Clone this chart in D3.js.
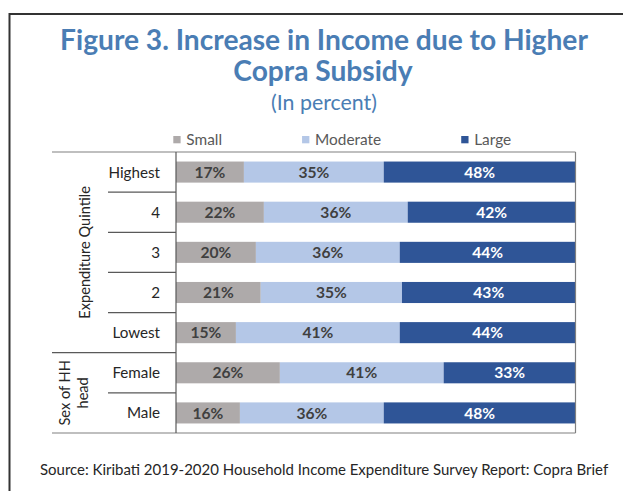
<!DOCTYPE html>
<html>
<head>
<meta charset="utf-8">
<script src="https://cdn.jsdelivr.net/npm/d3@7/dist/d3.min.js"></script>
<style>
  html, body { margin: 0; padding: 0; background: #fff; }
  svg { display: block; }
</style>
</head>
<body>
<svg id="chart" width="623" height="491"></svg>
<script>
// ---------------- DATA ----------------
const categories = ["Highest", "4", "3", "2", "Lowest", "Female", "Male"];
const seriesNames = ["Small", "Moderate", "Large"];
const small    = [17, 22, 20, 21, 15, 26, 16];
const moderate = [35, 36, 36, 35, 41, 41, 36];
const large    = [48, 42, 44, 43, 44, 33, 48];
const groupNames = [["Expenditure Quintile"], ["Sex of HH", "head"]];
const groupSizes = [5, 2];
const titleLines = ["Figure 3. Increase in Income due to Higher", "Copra Subsidy"];
const subtitle = "(In percent)";
const sourceText = "Source: Kiribati 2019-2020 Household Income Expenditure Survey Report: Copra Brief";

// ---------------- SETUP ----------------
const FONT = "Lato, 'Open Sans', sans-serif";
const colors = ["#AEAAAA", "#B4C7E7", "#2F5597"];
const labelColors = ["#404040", "#404040", "#FFFFFF"];
const svg = d3.select("#chart");

const rows = categories.map((c, i) => ({ cat: c, Small: small[i], Moderate: moderate[i], Large: large[i] }));
const stack = d3.stack().keys(seriesNames).offset(d3.stackOffsetExpand);
const stacked = stack(rows);

const plot = { left: 176, right: 575.5, top: 152, bottom: 433 };
const x = d3.scaleLinear().domain([0, 1]).range([plot.left, plot.right]);
const y = d3.scaleBand().domain(categories).range([plot.top, plot.bottom])
  .paddingInner(0.475).paddingOuter(0.2375);
const step = y.step();
const rowTop = c => y(c) - step * y.paddingInner() / 2;

// Outer page frame
svg.append("line").attr("x1", 9.5).attr("x2", 623).attr("y1", 14).attr("y2", 14)
  .attr("stroke", "#333").attr("stroke-width", 2);
svg.append("line").attr("x1", 9.5).attr("x2", 9.5).attr("y1", 13).attr("y2", 491)
  .attr("stroke", "#333").attr("stroke-width", 2);

// helper to fit text width
function fit(sel, target) {
  const fs = parseFloat(sel.attr("font-size"));
  const w = sel.node().getComputedTextLength();
  sel.attr("font-size", (fs * target / w).toFixed(2));
}

// Title
const titleColor = "#4A7DB4";
const t1 = svg.append("text").attr("x", 324).attr("y", 49.5).attr("text-anchor", "middle")
  .attr("font-family", FONT).attr("font-weight", "bold").attr("font-size", 25)
  .attr("fill", titleColor).text(titleLines[0]);
fit(t1, 528);
const tfs = t1.attr("font-size");
svg.append("text").attr("x", 323).attr("y", 81).attr("text-anchor", "middle")
  .attr("font-family", FONT).attr("font-weight", "bold").attr("font-size", tfs)
  .attr("fill", titleColor).text(titleLines[1]);
const st = svg.append("text").attr("x", 324).attr("y", 109.5).attr("text-anchor", "middle")
  .attr("font-family", FONT).attr("font-size", 20)
  .attr("fill", titleColor).text(subtitle);
fit(st, 106);

// Legend
const legend = svg.append("g");
let lx = 173.3;
seriesNames.forEach((s, i) => {
  legend.append("rect").attr("x", lx).attr("y", 136).attr("width", 7.3).attr("height", 7.3)
    .attr("fill", colors[i]);
  const t = legend.append("text").attr("x", lx + 13).attr("y", 145.3)
    .attr("font-family", FONT).attr("font-size", 15.4).attr("fill", "#595959").text(s);
  lx = lx + 13 + t.node().getComputedTextLength() + 80;
});

// Bars
const layer = svg.append("g").selectAll("g").data(stacked).join("g")
  .attr("fill", (d, i) => colors[i]);
layer.selectAll("rect").data(d => d).join("rect")
  .attr("x", d => x(d[0])).attr("width", d => x(d[1]) - x(d[0]))
  .attr("y", d => y(d.data.cat)).attr("height", y.bandwidth());

// Bar labels
const vals = [small, moderate, large];
stacked.forEach((ser, si) => {
  svg.append("g").selectAll("text").data(ser).join("text")
    .attr("x", d => (x(d[0]) + x(d[1])) / 2)
    .attr("y", d => y(d.data.cat) + y.bandwidth() / 2)
    .attr("dy", "0.36em").attr("text-anchor", "middle")
    .attr("font-family", FONT).attr("font-weight", "bold").attr("font-size", 15.6)
    .attr("fill", labelColors[si])
    .text((d, i) => vals[si][i] + "%");
});

// Plot frame
const lineColor = "#808080";
svg.append("line").attr("x1", plot.right).attr("x2", plot.right).attr("y1", plot.top).attr("y2", plot.bottom)
  .attr("stroke", lineColor).attr("stroke-width", 1.2);
svg.append("line").attr("x1", 52).attr("x2", plot.right).attr("y1", plot.top).attr("y2", plot.top)
  .attr("stroke", lineColor).attr("stroke-width", 1.2);
svg.append("line").attr("x1", 52).attr("x2", plot.right).attr("y1", plot.bottom).attr("y2", plot.bottom)
  .attr("stroke", lineColor).attr("stroke-width", 1.2);
svg.append("line").attr("x1", plot.left).attr("x2", plot.left).attr("y1", plot.top).attr("y2", plot.bottom)
  .attr("stroke", "#595959").attr("stroke-width", 1.2);

// Category labels
svg.append("g").selectAll("text").data(categories).join("text")
  .attr("x", 160).attr("y", d => y(d) + y.bandwidth() / 2).attr("dy", "0.36em")
  .attr("text-anchor", "end").attr("font-family", FONT).attr("font-size", 15.2)
  .attr("fill", "#262626").text(d => d);

// Row separators & group labels
let idx = 0;
groupSizes.forEach((n, gi) => {
  const cats = categories.slice(idx, idx + n);
  cats.slice(1).forEach(c => {
    svg.append("line").attr("x1", 108).attr("x2", plot.left)
      .attr("y1", rowTop(c)).attr("y2", rowTop(c))
      .attr("stroke", "#595959").attr("stroke-width", 1.2);
  });
  if (gi < groupSizes.length - 1) {
    const yb = rowTop(categories[idx + n]);
    svg.append("line").attr("x1", 52).attr("x2", plot.left).attr("y1", yb).attr("y2", yb)
      .attr("stroke", "#595959").attr("stroke-width", 1.2);
  }
  const gTop = rowTop(cats[0]);
  const gBot = rowTop(cats[n - 1]) + step;
  const cy = (gTop + gBot) / 2;
  const lines = groupNames[gi];
  const lh = 18;
  const baseX = gi === 0 ? 85 : 74;
  lines.forEach((ln, li) => {
    const cx = baseX + (li - (lines.length - 1) / 2) * lh;
    svg.append("text")
      .attr("transform", `translate(${cx},${cy}) rotate(-90)`)
      .attr("dy", "0.36em").attr("text-anchor", "middle")
      .attr("font-family", FONT).attr("font-size", 14.6).attr("fill", "#262626")
      .text(ln);
  });
  idx += n;
});

// Source
const src = svg.append("text").attr("x", 40).attr("y", 474.5)
  .attr("font-family", FONT).attr("font-size", 14.2).attr("fill", "#262626").text(sourceText);
fit(src, 568);
</script>
</body>
</html>
